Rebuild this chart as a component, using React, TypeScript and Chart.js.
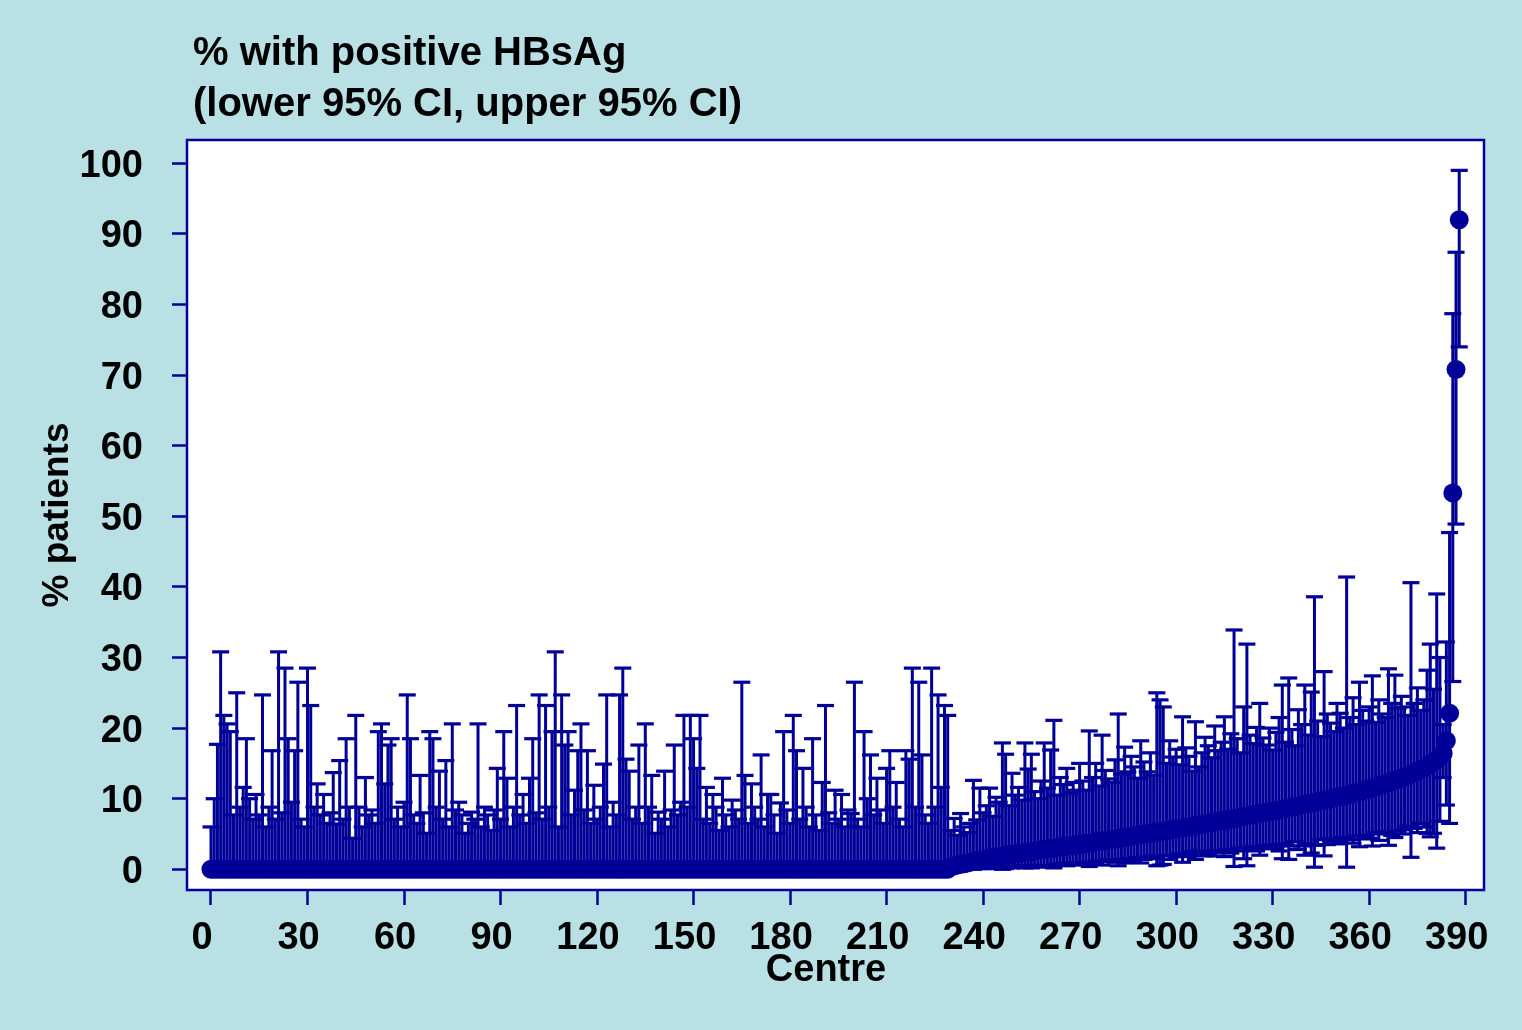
import React, { useEffect, useRef } from "react";
import { Chart, registerables } from "chart.js";

Chart.register(...registerables);

// Centres are ranked 0..388 (index = rank on the x axis)
// Point estimate (%) per centre
const estimate = [
  0, 0, 0, 0, 0, 0, 0, 0, 0, 0,
  0, 0, 0, 0, 0, 0, 0, 0, 0, 0,
  0, 0, 0, 0, 0, 0, 0, 0, 0, 0,
  0, 0, 0, 0, 0, 0, 0, 0, 0, 0,
  0, 0, 0, 0, 0, 0, 0, 0, 0, 0,
  0, 0, 0, 0, 0, 0, 0, 0, 0, 0,
  0, 0, 0, 0, 0, 0, 0, 0, 0, 0,
  0, 0, 0, 0, 0, 0, 0, 0, 0, 0,
  0, 0, 0, 0, 0, 0, 0, 0, 0, 0,
  0, 0, 0, 0, 0, 0, 0, 0, 0, 0,
  0, 0, 0, 0, 0, 0, 0, 0, 0, 0,
  0, 0, 0, 0, 0, 0, 0, 0, 0, 0,
  0, 0, 0, 0, 0, 0, 0, 0, 0, 0,
  0, 0, 0, 0, 0, 0, 0, 0, 0, 0,
  0, 0, 0, 0, 0, 0, 0, 0, 0, 0,
  0, 0, 0, 0, 0, 0, 0, 0, 0, 0,
  0, 0, 0, 0, 0, 0, 0, 0, 0, 0,
  0, 0, 0, 0, 0, 0, 0, 0, 0, 0,
  0, 0, 0, 0, 0, 0, 0, 0, 0, 0,
  0, 0, 0, 0, 0, 0, 0, 0, 0, 0,
  0, 0, 0, 0, 0, 0, 0, 0, 0, 0,
  0, 0, 0, 0, 0, 0, 0, 0, 0, 0,
  0, 0, 0, 0, 0, 0, 0, 0, 0, 0,
  0.4, 0.5, 0.6, 0.7, 0.8, 0.9, 1.0, 1.1, 1.2, 1.3,
  1.4, 1.5, 1.6, 1.7, 1.8, 1.8, 1.9, 2.0, 2.1, 2.1,
  2.2, 2.3, 2.3, 2.4, 2.5, 2.5, 2.6, 2.7, 2.8, 2.8,
  2.9, 3.0, 3.0, 3.1, 3.2, 3.2, 3.3, 3.3, 3.4, 3.5,
  3.5, 3.6, 3.7, 3.7, 3.8, 3.9, 4.0, 4.0, 4.1, 4.2,
  4.2, 4.3, 4.4, 4.5, 4.5, 4.6, 4.7, 4.8, 4.8, 4.9,
  5.0, 5.0, 5.1, 5.2, 5.3, 5.3, 5.4, 5.5, 5.6, 5.7,
  5.7, 5.8, 5.9, 6.0, 6.0, 6.1, 6.2, 6.3, 6.4, 6.5,
  6.5, 6.6, 6.7, 6.8, 6.9, 7.0, 7.0, 7.1, 7.2, 7.3,
  7.4, 7.5, 7.6, 7.7, 7.7, 7.8, 7.9, 8.0, 8.1, 8.2,
  8.2, 8.3, 8.4, 8.5, 8.6, 8.7, 8.8, 8.9, 9.0, 9.1,
  9.2, 9.3, 9.4, 9.5, 9.6, 9.7, 9.8, 9.9, 10.0, 10.1,
  10.2, 10.3, 10.4, 10.5, 10.6, 10.8, 10.9, 11.0, 11.1, 11.3,
  11.4, 11.5, 11.7, 11.8, 12.0, 12.1, 12.3, 12.4, 12.6, 12.8,
  12.9, 13.1, 13.3, 13.5, 13.7, 13.9, 14.1, 14.3, 14.6, 14.9,
  15.2, 15.5, 15.9, 16.4,
  18.2, 22.1, 53.3, 70.8, 92.0,
];

// Lower 95% CI (%) per centre
const lowerCI = [
  0, 0, 0, 0, 0, 0, 0, 0, 0, 0,
  0, 0, 0, 0, 0, 0, 0, 0, 0, 0,
  0, 0, 0, 0, 0, 0, 0, 0, 0, 0,
  0, 0, 0, 0, 0, 0, 0, 0, 0, 0,
  0, 0, 0, 0, 0, 0, 0, 0, 0, 0,
  0, 0, 0, 0, 0, 0, 0, 0, 0, 0,
  0, 0, 0, 0, 0, 0, 0, 0, 0, 0,
  0, 0, 0, 0, 0, 0, 0, 0, 0, 0,
  0, 0, 0, 0, 0, 0, 0, 0, 0, 0,
  0, 0, 0, 0, 0, 0, 0, 0, 0, 0,
  0, 0, 0, 0, 0, 0, 0, 0, 0, 0,
  0, 0, 0, 0, 0, 0, 0, 0, 0, 0,
  0, 0, 0, 0, 0, 0, 0, 0, 0, 0,
  0, 0, 0, 0, 0, 0, 0, 0, 0, 0,
  0, 0, 0, 0, 0, 0, 0, 0, 0, 0,
  0, 0, 0, 0, 0, 0, 0, 0, 0, 0,
  0, 0, 0, 0, 0, 0, 0, 0, 0, 0,
  0, 0, 0, 0, 0, 0, 0, 0, 0, 0,
  0, 0, 0, 0, 0, 0, 0, 0, 0, 0,
  0, 0, 0, 0, 0, 0, 0, 0, 0, 0,
  0, 0, 0, 0, 0, 0, 0, 0, 0, 0,
  0, 0, 0, 0, 0, 0, 0, 0, 0, 0,
  0, 0, 0, 0, 0, 0, 0, 0, 0, 0,
  0.0, 0.0, 0.0, 0.0, 0.0, 0.0, 0.1, 0.0, 0.1, 0.2,
  0.1, 0.2, 0.3, 0.1, 0.2, 0.3, 0.0, 0.1, 0.3, 0.2,
  0.4, 0.3, 0.5, 0.2, 0.3, 0.2, 0.6, 0.5, 0.4, 0.3,
  0.5, 0.4, 0.2, 0.7, 0.6, 0.8, 0.5, 0.9, 0.7, 0.8,
  0.6, 0.9, 1.0, 0.4, 0.9, 0.7, 1.2, 0.6, 1.1, 1.3,
  1.3, 1.0, 0.5, 1.4, 0.9, 1.5, 1.2, 1.4, 1.7, 0.9,
  1.4, 1.8, 1.5, 1.9, 0.5, 0.6, 0.7, 1.9, 1.4, 2.0,
  1.8, 2.2, 1.0, 1.8, 2.1, 2.5, 1.4, 2.6, 2.3, 1.9,
  2.2, 2.6, 1.9, 2.6, 2.4, 1.8, 2.8, 2.3, 0.4, 2.6,
  3.0, 1.5, 0.5, 2.8, 3.2, 2.6, 2.0, 3.1, 3.4, 2.9,
  3.5, 3.0, 2.6, 1.5, 3.6, 1.4, 3.3, 3.9, 2.8, 3.3,
  2.0, 3.6, 2.3, 0.3, 3.4, 4.2, 1.9, 3.5, 4.0, 4.3,
  3.6, 3.9, 4.5, 0.3, 4.2, 3.7, 4.7, 3.2, 4.3, 4.8,
  4.4, 3.3, 5.2, 4.1, 5.0, 5.3, 3.4, 4.8, 4.5, 5.4,
  5.0, 5.6, 6.1, 1.7, 5.8, 5.2, 6.5, 6.0, 5.1, 4.6,
  5.1, 3.0, 6.8, 13.0,
  9.1, 6.5, 26.6, 48.9, 74.0,
];

// Upper 95% CI (%) per centre
const upperCI = [
  6.0, 10.0, 17.7, 30.8, 21.8, 20.6, 19.5, 7.7, 25.0, 8.8,
  11.6, 18.5, 10.0, 7.1, 10.6, 7.7, 24.7, 6.0, 8.8, 16.8,
  7.1, 30.8, 8.0, 28.5, 18.5, 9.5, 16.8, 26.5, 7.1, 6.0,
  28.5, 23.2, 8.8, 12.1, 7.7, 10.6, 6.5, 8.0, 13.7, 6.4,
  15.4, 7.1, 18.5, 8.8, 4.4, 21.8, 8.8, 6.0, 13.0, 7.7,
  8.4, 6.5, 19.5, 20.6, 12.1, 17.6, 18.5, 7.1, 8.8, 6.0,
  9.5, 24.7, 18.5, 7.7, 6.5, 13.3, 8.0, 5.1, 19.5, 18.5,
  8.8, 13.9, 7.1, 15.4, 6.0, 20.6, 8.4, 9.5, 7.7, 5.1,
  6.5, 8.1, 7.1, 20.6, 6.0, 8.8, 7.7, 5.5, 8.4, 14.3,
  7.1, 19.5, 12.9, 6.0, 8.8, 23.2, 7.7, 10.6, 6.5, 12.9,
  18.5, 8.0, 24.7, 7.1, 23.2, 8.8, 19.5, 30.8, 6.0, 24.7,
  17.6, 19.5, 7.7, 11.2, 16.8, 20.6, 8.4, 16.8, 6.5, 11.9,
  7.1, 8.8, 14.9, 24.7, 6.0, 9.5, 7.7, 24.7, 28.5, 15.6,
  13.9, 7.1, 8.8, 17.6, 6.5, 20.6, 8.8, 13.3, 5.1, 8.1,
  7.1, 13.9, 6.0, 8.4, 17.6, 7.7, 9.5, 21.8, 8.8, 21.8,
  18.5, 14.3, 21.8, 7.1, 11.6, 6.5, 10.6, 8.8, 5.5, 12.9,
  7.7, 6.0, 9.8, 8.4, 7.1, 26.5, 13.3, 6.5, 12.1, 8.8,
  7.1, 16.2, 6.0, 10.6, 10.6, 7.7, 5.1, 9.4, 19.5, 8.4,
  6.5, 21.8, 16.8, 7.1, 14.3, 8.8, 6.0, 18.5, 7.7, 5.5,
  12.3, 23.2, 8.0, 6.5, 11.2, 7.1, 10.6, 6.0, 8.4, 7.9,
  26.5, 7.1, 6.0, 19.5, 10.0, 16.2, 7.7, 12.9, 8.4, 6.5,
  14.3, 16.8, 8.8, 12.3, 7.1, 6.0, 16.8, 15.6, 28.5, 8.8,
  26.5, 16.2, 7.7, 6.5, 28.5, 8.8, 24.7, 11.6, 23.2, 21.8,
  5.5, 7.2, 4.8, 7.9, 6.0, 5.2, 6.5, 12.6, 7.0, 11.5,
  8.0, 9.0, 11.5, 7.5, 10.2, 9.5, 17.9, 16.3, 9.0, 13.6,
  10.5, 11.6, 9.8, 17.9, 14.2, 16.3, 11.0, 10.0, 12.5, 17.9,
  11.5, 16.9, 21.1, 10.5, 13.0, 12.0, 14.3, 10.8, 12.3, 11.2,
  15.0, 12.5, 11.2, 19.6, 13.0, 15.0, 11.8, 19.0, 14.0, 12.8,
  12.3, 15.5, 22.0, 13.5, 17.3, 13.8, 16.0, 14.5, 12.9, 18.2,
  15.2, 13.8, 16.5, 13.3, 25.0, 24.0, 23.0, 15.0, 18.2, 15.9,
  17.0, 14.8, 21.6, 17.2, 16.0, 13.9, 20.9, 14.5, 16.5, 18.7,
  17.5, 15.8, 20.3, 16.8, 18.0, 21.6, 17.0, 19.2, 33.9, 18.5,
  16.5, 23.0, 31.9, 19.0, 17.8, 20.1, 23.5, 18.6, 17.6, 20.0,
  16.9, 19.4, 21.5, 26.1, 18.0, 27.1, 19.8, 17.5, 22.6, 20.5,
  26.1, 19.0, 25.1, 38.6, 21.0, 18.8, 28.0, 22.0, 20.7, 19.5,
  23.5, 22.1, 20.0, 41.4, 21.5, 24.3, 20.5, 26.5, 22.5, 21.0,
  23.0, 27.4, 20.8, 24.0, 22.0, 21.5, 28.4, 23.5, 27.5, 22.8,
  24.5, 23.0, 21.8, 40.6, 23.5, 25.7, 22.5, 24.0, 28.2, 31.9,
  25.5, 39.0, 30.0, 20.5,
  32.2, 47.7, 78.7, 87.4, 99.0,
];

const yTickValues = [0, 10, 20, 30, 40, 50, 60, 70, 80, 90, 100];
const xTickValues = [0, 30, 60, 90, 120, 150, 180, 210, 240, 270, 300, 330, 360, 390];

const titleLines = ["% with positive HBsAg", "(lower 95% CI, upper 95% CI)"];
const xAxisTitle = "Centre";
const yAxisTitle = "% patients";

const PAGE_BG = "#b9e0e4";
const INK = "#000099";
const FONT = "'Liberation Sans', Arial, Helvetica, sans-serif";

export default function App() {
  const canvasRef = useRef<HTMLCanvasElement | null>(null);

  useEffect(() => {
    document.body.style.margin = "0";
    document.body.style.background = PAGE_BG;
    const canvas = canvasRef.current;
    if (!canvas) return;

    const stems: { x: number; y: number | null }[] = [];
    const caps: { x: number; y: number }[] = [];
    const dots: { x: number; y: number }[] = [];
    estimate.forEach((v, i) => {
      stems.push({ x: i, y: lowerCI[i] }, { x: i, y: upperCI[i] }, { x: i, y: null });
      caps.push({ x: i, y: upperCI[i] }, { x: i, y: lowerCI[i] });
      dots.push({ x: i, y: v });
    });

    const framePlugin = {
      id: "frameAndTitle",
      beforeDraw(chart: any) {
        const { ctx, chartArea: a, width, height } = chart;
        ctx.save();
        ctx.fillStyle = PAGE_BG;
        ctx.fillRect(0, 0, width, height);
        ctx.fillStyle = "#ffffff";
        ctx.fillRect(a.left, a.top, a.right - a.left, a.bottom - a.top);
        ctx.restore();
      },
      afterDraw(chart: any) {
        const { ctx, chartArea: a } = chart;
        ctx.save();
        ctx.strokeStyle = INK;
        ctx.lineWidth = 2.5;
        ctx.strokeRect(a.left, a.top, a.right - a.left, a.bottom - a.top);
        ctx.fillStyle = "#000000";
        ctx.font = `bold 40px ${FONT}`;
        ctx.textAlign = "left";
        ctx.textBaseline = "alphabetic";
        ctx.fillText(titleLines[0], 193, 65);
        ctx.fillText(titleLines[1], 193, 116);
        ctx.font = `bold 38px ${FONT}`;
        ctx.textAlign = "center";
        ctx.textBaseline = "middle";
        ctx.fillText(xAxisTitle, 826, 971);
        ctx.restore();
      },
    };

    const chart = new Chart(canvas, {
      type: "scatter",
      data: {
        datasets: [
          {
            type: "scatter",
            label: "estimate",
            data: dots,
            pointStyle: "circle",
            pointRadius: 9.5,
            pointHoverRadius: 9.5,
            backgroundColor: INK,
            borderColor: INK,
            borderWidth: 0,
            order: 0,
          },
          {
            type: "scatter",
            label: "caps",
            data: caps,
            pointStyle: "line",
            pointRadius: 8.5,
            pointHoverRadius: 8.5,
            borderColor: INK,
            backgroundColor: INK,
            borderWidth: 3.2,
            order: 1,
          },
          {
            type: "line",
            label: "ci",
            data: stems as any,
            borderColor: INK,
            borderWidth: 3,
            pointRadius: 0,
            pointHoverRadius: 0,
            spanGaps: false,
            fill: false,
            order: 2,
          },
        ],
      },
      options: {
        animation: false,
        responsive: false,
        devicePixelRatio: 1,
        layout: { padding: { top: 140, right: 38, left: 0, bottom: 0 } },
        plugins: {
          legend: { display: false },
          tooltip: { enabled: false },
          title: { display: false },
        },
        scales: {
          x: {
            type: "linear",
            min: -7.46,
            max: 395.7,
            afterFit: (s: any) => {
              s.height = 140;
            },
            afterBuildTicks: (s: any) => {
              s.ticks = xTickValues.map((v) => ({ value: v }));
            },
            border: { display: false },
            grid: {
              drawOnChartArea: false,
              drawTicks: true,
              tickLength: 15,
              tickColor: INK,
              tickWidth: 2.5,
              color: INK,
            },
            ticks: {
              color: "#000000",
              font: { family: FONT, size: 38, weight: "bold" },
              padding: 11,
              labelOffset: -9,
              maxRotation: 0,
              autoSkip: false,
            },
            title: { display: false },
          },
          y: {
            type: "linear",
            min: -2.93,
            max: 103.3,
            afterFit: (s: any) => {
              s.width = 187;
            },
            afterBuildTicks: (s: any) => {
              s.ticks = yTickValues.map((v) => ({ value: v }));
            },
            border: { display: false },
            grid: {
              drawOnChartArea: false,
              drawTicks: true,
              tickLength: 15,
              tickColor: INK,
              tickWidth: 2.5,
              color: INK,
            },
            ticks: {
              color: "#000000",
              font: { family: FONT, size: 38, weight: "bold" },
              padding: 29,
              labelOffset: 3,
              autoSkip: false,
            },
            title: {
              display: true,
              text: yAxisTitle,
              color: "#000000",
              font: { family: FONT, size: 37, weight: "bold" },
              padding: { top: 36, bottom: 0 },
            },
          },
        },
      },
      plugins: [framePlugin],
    });

    return () => {
      chart.destroy();
    };
  }, []);

  return (
    <div style={{ width: 1522, height: 1030, background: PAGE_BG }}>
      <canvas ref={canvasRef} width={1522} height={1030} style={{ display: "block", width: 1522, height: 1030 }} />
    </div>
  );
}
